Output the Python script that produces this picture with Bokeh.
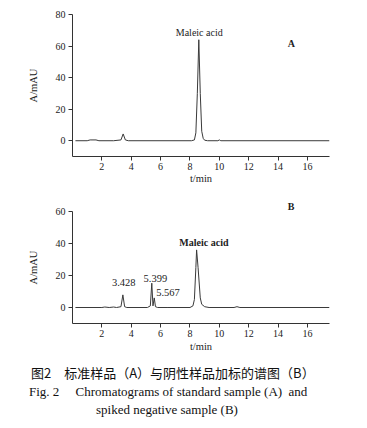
from bokeh.plotting import figure
from bokeh.layouts import column
from bokeh.models import Range1d, FixedTicker, Label, Title, Div
from bokeh.embed import file_html
from bokeh.resources import INLINE
from bokeh.core.properties import value

# ---- data ----
tA = [0.2, 1.0, 1.2, 1.6, 1.8, 2.8, 3.3, 3.45, 3.6, 3.8, 8.1, 8.3, 8.4, 8.5, 8.6, 8.7, 8.8, 8.9, 9.0, 9.2, 9.9, 10.0, 10.1, 17.5]
absA = [0, 0, 0.5, 0.5, 0, 0, 0.5, 4.3, 0.5, 0, 0, 0.5, 5, 30, 64, 30, 6, 1.5, 0.3, 0, 0, 0.5, 0, 0]

tB = [0.2, 2.0, 2.2, 2.5, 2.8, 3.0, 3.3, 3.43, 3.55, 3.7, 5.1, 5.3, 5.399, 5.48, 5.567, 5.65, 5.8, 6.5,
      8.0, 8.2, 8.3, 8.4, 8.45, 8.55, 8.7, 8.8, 9.0, 9.3, 11.0, 11.2, 11.4, 17.5]
absB = [0, 0, 0.3, 0, 0.3, 0, 0.5, 7.9, 0.5, 0, 0, 1, 15.2, 1, 6, 0.5, 0, 0,
        0, 1, 5, 25, 36, 25, 6, 2, 0.5, 0, 0, 0.5, 0, 0]

x_ticks = [2, 4, 6, 8, 10, 12, 14, 16]
yA_ticks = [0, 20, 40, 60, 80]
yB_ticks = [0, 20, 40, 60]

peak_labels_B = ["3.428", "5.399", "5.567"]
peak_label_x = [3.49, 5.64, 6.50]
peak_label_y = [15.7, 18.2, 9.3]

caption_cn = "图2　标准样品（A）与阴性样品加标的谱图（B）"
caption_en1 = "Fig. 2\u3000 Chromatograms of standard sample (A)  and"
caption_en2 = "spiked negative sample (B)"

SERIF = "Liberation Serif"
AXC = "#333333"
TRACE = "#3a3a3a"
TXT = "#222222"


def make_fig(ymin, ymax, yticks, top, fh, bottom, tstand):
    p = figure(frame_width=257, frame_height=fh, min_border_left=72, min_border_right=30,
               min_border_top=top, min_border_bottom=bottom,
               x_range=Range1d(0, 17.5), y_range=Range1d(ymin, ymax),
               output_backend="svg", toolbar_location=None, tools="")
    p.outline_line_color = None
    p.grid.visible = False
    for ax in (p.xaxis[0], p.yaxis[0]):
        ax.axis_line_color = AXC
        ax.major_tick_line_color = AXC
        ax.minor_tick_line_color = None
        ax.major_tick_in = 0
        ax.major_tick_out = 4
        ax.major_label_text_font = SERIF
        ax.major_label_text_font_size = "10px"
        ax.major_label_text_color = TXT
        ax.axis_label_text_font = SERIF
        ax.axis_label_text_font_size = "10.5px"
        ax.axis_label_text_font_style = "normal"
        ax.axis_label_text_color = TXT
    p.xaxis.ticker = FixedTicker(ticks=x_ticks)
    p.yaxis.ticker = FixedTicker(ticks=yticks)
    p.xaxis.major_label_standoff = 2
    p.yaxis.major_label_standoff = 3
    p.xaxis.axis_label = "t/min"
    p.yaxis.axis_label = "A/mAU"
    p.xaxis.axis_label_standoff = tstand
    p.yaxis.axis_label_standoff = 14
    return p


# ---- figure A ----
pA = make_fig(-10, 80, yA_ticks, 14, 142, 32, 0)
pA.line(tA, absA, line_color=TRACE, line_width=1)
pA.add_layout(Label(x=8.63, y=68.3, text="Maleic acid", text_align="center", text_baseline="middle",
                    text_font=SERIF, text_font_size="10px", text_color=TXT))
pA.add_layout(Label(x=14.9, y=61.9, text="A", text_align="center", text_baseline="middle",
                    text_font=SERIF, text_font_size="10px", text_font_style="bold", text_color=TXT))

# ---- figure B ----
pB = make_fig(-10, 60, yB_ticks, 23, 112, 30, 1)
pB.line(tB, absB, line_color=TRACE, line_width=1)
pB.text(x=peak_label_x, y=peak_label_y, text=peak_labels_B, text_align="center",
        text_baseline="middle", text_font=value(SERIF), text_font_size="10.5px", text_color=TXT)
pB.add_layout(Label(x=8.95, y=40.6, text="Maleic acid", text_align="center", text_baseline="middle",
                    text_font=SERIF, text_font_size="10px", text_font_style="bold", text_color=TXT))
pB.add_layout(Title(text="B", align="right", offset=35, standoff=0, text_font=SERIF,
                    text_font_size="10px", text_font_style="bold", text_color=TXT), "above")

# ---- caption ----
cap = Div(text=(
    f'<div style="padding-top:10px;line-height:18.5px;color:#111;white-space:pre;">'
    f'<div style="margin-left:31px;font-family:\'Noto Sans CJK SC\';font-size:13px;">{caption_cn}</div>'
    f'<div style="margin-left:29px;font-family:\'Liberation Serif\';font-size:13px;">{caption_en1}</div>'
    f'<div style="margin-left:96px;font-family:\'Liberation Serif\';font-size:13px;">{caption_en2}</div>'
    f'</div>'), width=359, height=70, margin=(0, 0, 0, 0))

layout = column(pA, pB, cap, spacing=0)
open("out.html", "w").write(file_html(layout, INLINE))
